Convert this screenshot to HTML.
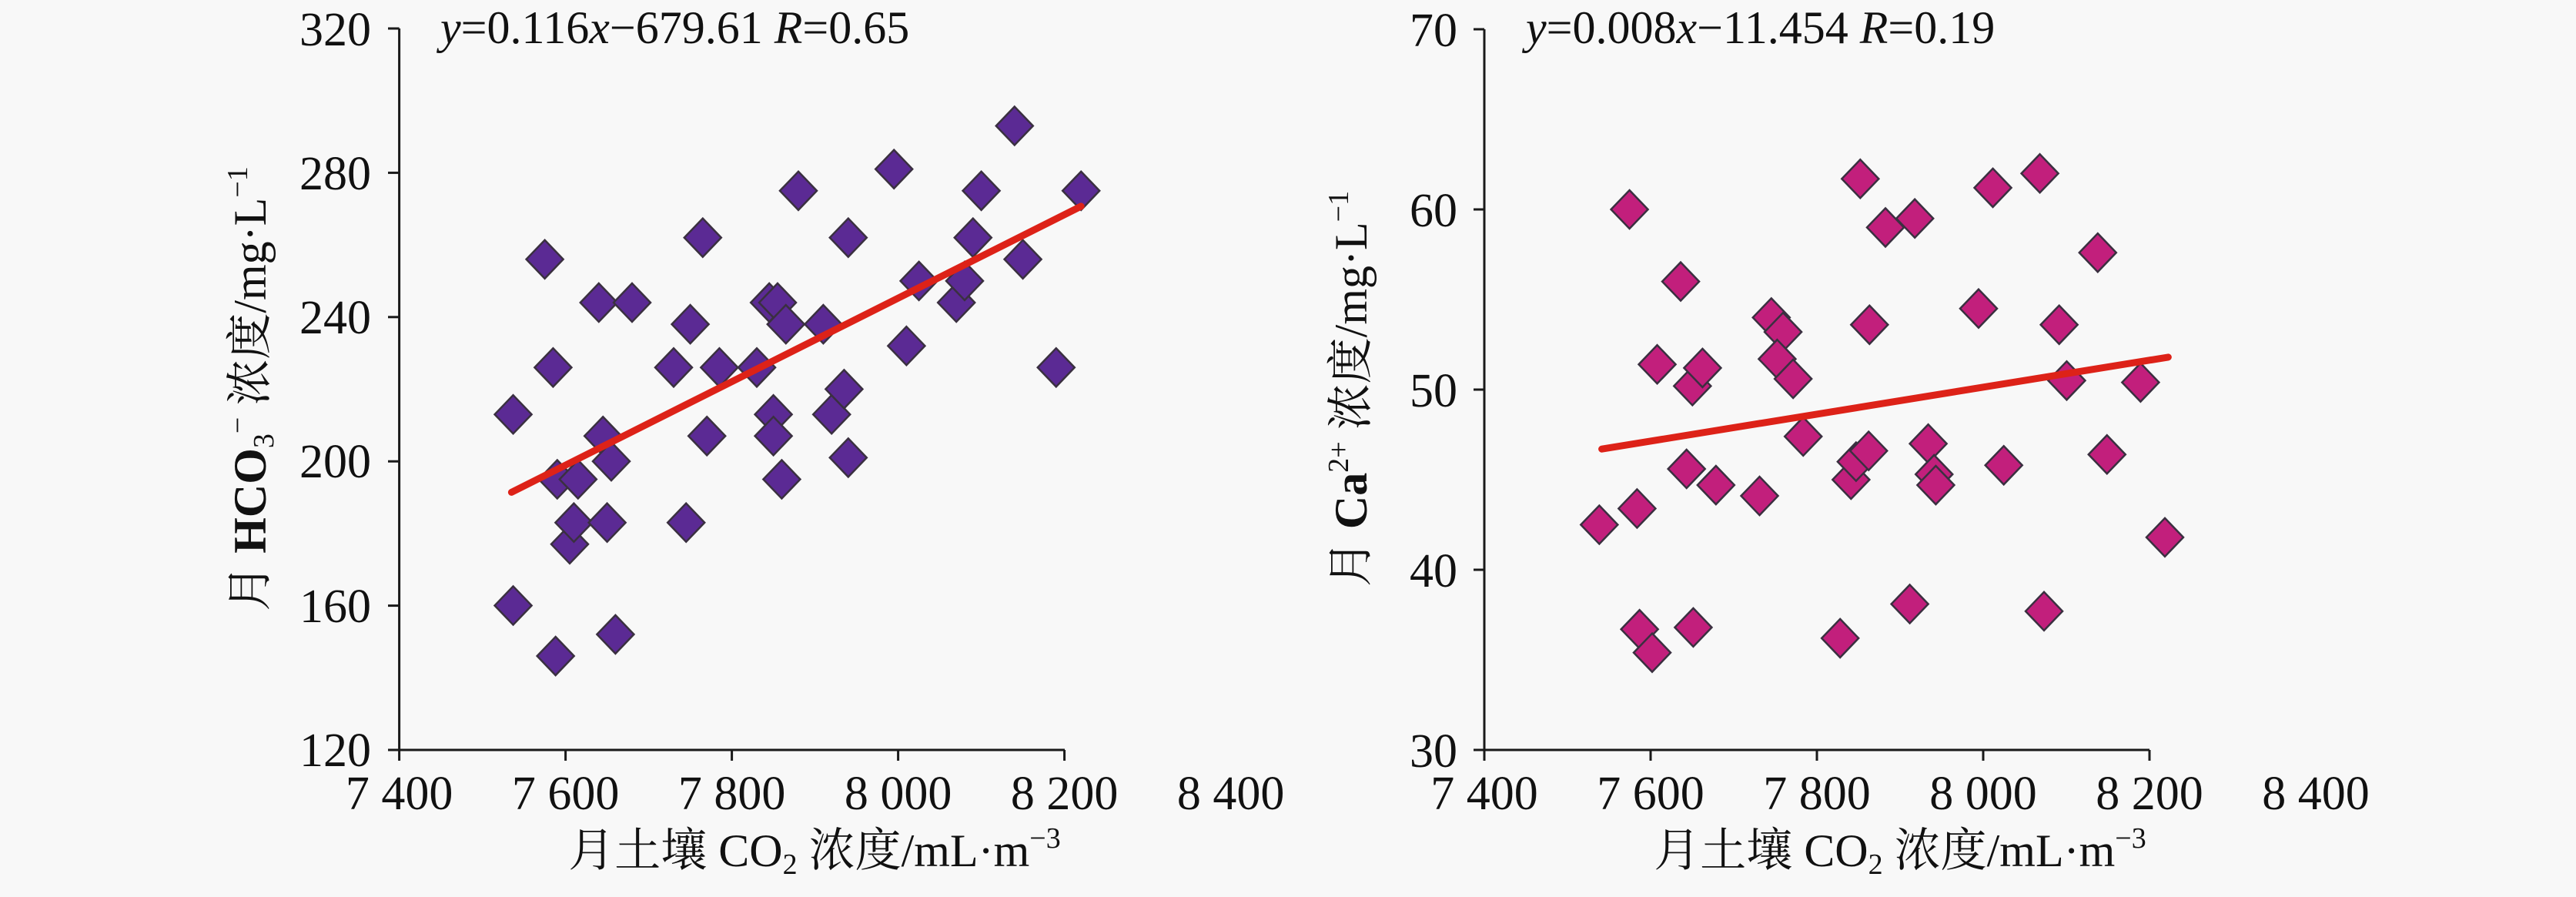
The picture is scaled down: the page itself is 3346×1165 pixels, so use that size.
<!DOCTYPE html>
<html><head><meta charset="utf-8"><style>
html,body{margin:0;padding:0;background:#f8f8f8;}
svg{display:block;}
svg text{font-family:"Liberation Serif","Noto Serif CJK SC",serif;fill:#111;}
</style></head><body>
<svg id="s" width="3346" height="1165" viewBox="0 0 3346 1165" xmlns="http://www.w3.org/2000/svg" font-family="Liberation Serif, Noto Serif CJK SC, serif">
<rect width="3346" height="1165" fill="#f8f8f8"/>
<g id="L"></g><g id="R"></g>
<g stroke="#1a1a1a" stroke-width="3" fill="none">
<line x1="518.6" y1="37" x2="518.6" y2="974"/>
<line x1="518.6" y1="974" x2="1383" y2="974"/>
<line x1="1928" y1="38" x2="1928" y2="974"/>
<line x1="1928" y1="974" x2="2792" y2="974"/>
</g>
<g id="ticks" stroke="#1a1a1a" stroke-width="3"></g>
<g font-size="62" text-anchor="end" font-family="Liberation Serif, serif">
<text x="482" y="59">320</text><text x="482" y="246">280</text><text x="482" y="433">240</text><text x="482" y="620">200</text><text x="482" y="808">160</text><text x="482" y="995">120</text>
<text x="1893" y="60">70</text><text x="1893" y="294">60</text><text x="1893" y="528">50</text><text x="1893" y="762">40</text><text x="1893" y="996">30</text>
</g>
<g font-size="62" text-anchor="middle" font-family="Liberation Serif, serif">
<text x="518.6" y="1051">7 400</text><text x="734.6" y="1051">7 600</text><text x="950.6" y="1051">7 800</text><text x="1166.6" y="1051">8 000</text><text x="1382.6" y="1051">8 200</text><text x="1598.6" y="1051">8 400</text>
<text x="1928" y="1051">7 400</text><text x="2144" y="1051">7 600</text><text x="2360" y="1051">7 800</text><text x="2576" y="1051">8 000</text><text x="2792" y="1051">8 200</text><text x="3008" y="1051">8 400</text>
</g>
<text x="572" y="56" font-size="60"><tspan font-style="italic">y</tspan>=0.116<tspan font-style="italic">x</tspan>−679.61 <tspan font-style="italic">R</tspan>=0.65</text>
<text x="1982" y="56" font-size="60"><tspan font-style="italic">y</tspan>=0.008<tspan font-style="italic">x</tspan>−11.454 <tspan font-style="italic">R</tspan>=0.19</text>
<text x="1058" y="1125" font-size="60" text-anchor="middle">月土壤 CO<tspan font-size="38" dy="10">2</tspan><tspan dy="-10"> 浓度/mL·m</tspan><tspan font-size="38" dy="-24">−3</tspan></text>
<text x="2468" y="1125" font-size="60" text-anchor="middle">月土壤 CO<tspan font-size="38" dy="10">2</tspan><tspan dy="-10"> 浓度/mL·m</tspan><tspan font-size="38" dy="-24">−3</tspan></text>
<text transform="translate(345,505) rotate(-90)" font-size="60" text-anchor="middle">月 <tspan font-weight="bold">HCO</tspan><tspan font-size="38" dy="10">3</tspan><tspan font-size="38" dy="-34">−</tspan><tspan dy="24"> 浓度/mg·L</tspan><tspan font-size="38" dy="-24">−1</tspan></text>
<text transform="translate(1775,505) rotate(-90)" font-size="60" text-anchor="middle">月 <tspan font-weight="bold">Ca</tspan><tspan font-size="38" dy="-24">2+</tspan><tspan dy="24"> 浓度/mg·L</tspan><tspan font-size="38" dy="-24">−1</tspan></text>
</svg>
<script>
var NS="http://www.w3.org/2000/svg";
function el(p,t,a){var e=document.createElementNS(NS,t);for(var k in a)e.setAttribute(k,a[k]);p.appendChild(e);return e;}
var tk=document.getElementById("ticks");
for(var i=0;i<=5;i++){el(tk,"line",{x1:504,x2:518.6,y1:37+i*187.4,y2:37+i*187.4});}
for(var i=0;i<=4;i++){el(tk,"line",{x1:1914,x2:1928,y1:38+i*234,y2:38+i*234});}
for(var i=0;i<=4;i++){el(tk,"line",{x1:518.6+i*216,x2:518.6+i*216,y1:974,y2:988});el(tk,"line",{x1:1928+i*216,x2:1928+i*216,y1:974,y2:988});}
var L=[[7537,213],[7537,160],[7575,256],[7585,226],[7588,146],[7590,195],[7605,177],[7610,183],[7615,195],[7640,244],[7645,207],[7650,183],[7655,200],[7660,152],[7680,244],[7730,226],[7745,183],[7750,238],[7765,262],[7770,207],[7785,226],[7830,226],[7845,244],[7850,213],[7850,207],[7855,244],[7860,195],[7865,238],[7880,275],[7910,238],[7920,213],[7935,220],[7940,262],[7940,201],[7995,281],[8010,232],[8025,250],[8070,244],[8080,250],[8090,262],[8100,275],[8140,293],[8150,256],[8190,226],[8220,275]];
var R=[[7537,42.5],[7573,60],[7582,43.4],[7585,36.7],[7600,35.4],[7606,51.4],[7634,56],[7641,45.6],[7648,50.2],[7649,36.8],[7660,51.2],[7676,44.7],[7728,44.1],[7742,54],[7756,53.2],[7749,51.7],[7768,50.6],[7780,47.4],[7824,36.2],[7837,45],[7843,46],[7848,61.7],[7858,46.6],[7859,53.6],[7878,59],[7907,38.1],[7913,59.5],[7929,47],[7936,45.3],[7938,44.7],[7989,54.5],[8006,61.2],[8019,45.8],[8062,62],[8067,37.7],[8085,53.6],[8094,50.5],[8131,57.6],[8142,46.4],[8182,50.4],[8211,41.8]];
function lx(x){return 518.6+(x-7400)*1.08;} function ly(y){return 37+(320-y)*4.684;}
function rx(x){return 1928+(x-7400)*1.09;} function ry(y){return 38+(70-y)*23.4;}
function dia(g,x,y,c){el(g,"polygon",{points:(x)+","+(y-25)+" "+(x+24)+","+y+" "+x+","+(y+25)+" "+(x-24)+","+y,fill:c,stroke:"#3a3040","stroke-width":"2.5"});}
var gL=document.getElementById("L"),gR=document.getElementById("R");
L.forEach(function(p){dia(gL,lx(p[0]),ly(p[1]),"#5b2a94");});
R.forEach(function(p){dia(gR,rx(p[0]),ry(p[1]),"#c21f7c");});
el(gL,"line",{x1:lx(7535),y1:ly(191.4),x2:lx(8220),y2:ly(270.7),stroke:"#dd2218","stroke-width":"9","stroke-linecap":"round"});
el(gR,"line",{x1:rx(7540),y1:ry(46.7),x2:rx(8215),y2:ry(51.8),stroke:"#dd2218","stroke-width":"9","stroke-linecap":"round"});
</script>
</body></html>
